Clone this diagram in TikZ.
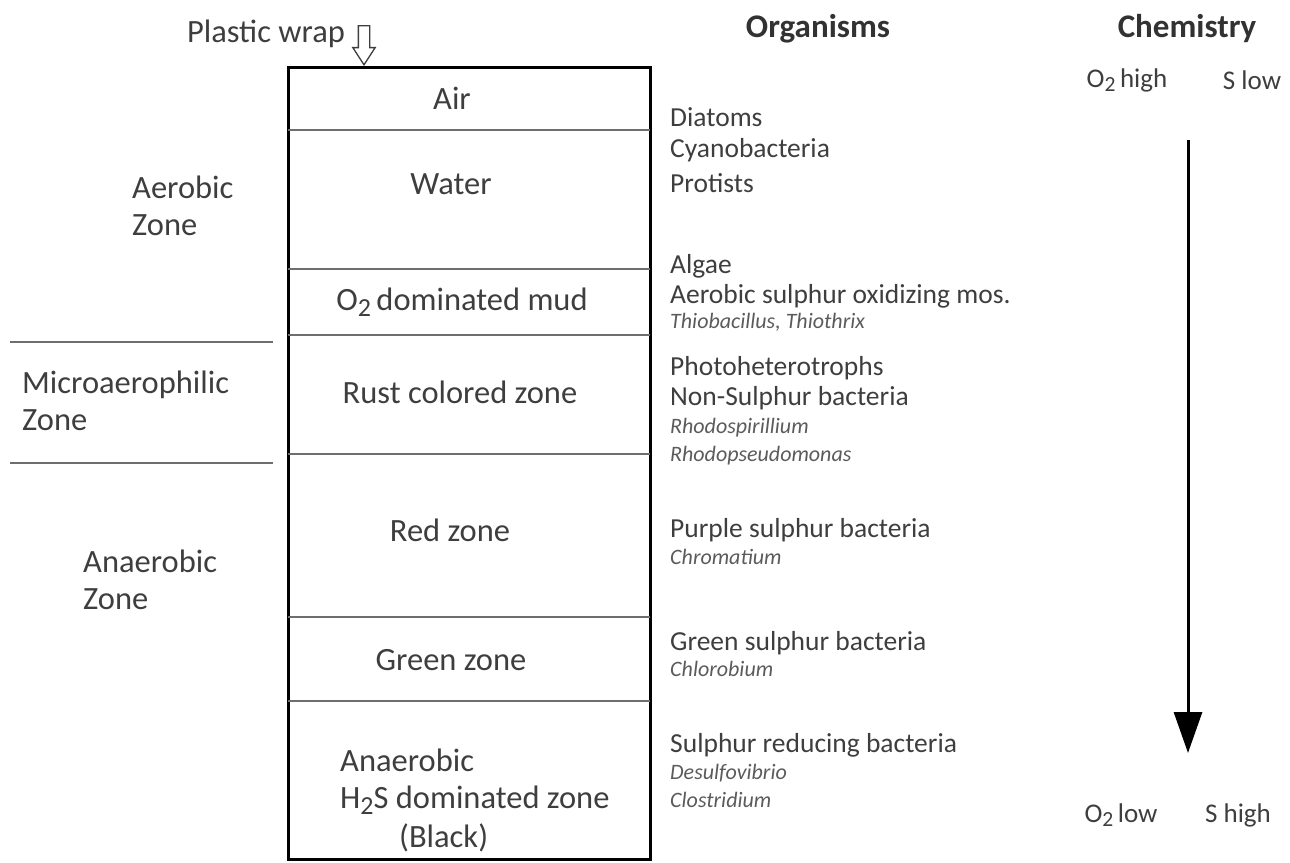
\documentclass[tikz,border=0pt]{standalone}
\usepackage{fontspec}
\setmainfont{Carlito}
\usetikzlibrary{arrows.meta,shapes.arrows}
\definecolor{textc}{RGB}{62,62,62}
\definecolor{divc}{RGB}{110,110,110}
\newcommand{\subtwo}{\raisebox{-0.35ex}{\scalebox{0.8}{2}}}
\begin{document}
\begin{tikzpicture}[x=1pt,y=-1pt,
  lbl/.style={font=\fontsize{32.5}{38}\selectfont, text=textc, inner sep=0pt},
  side/.style={font=\fontsize{32.5}{37.5}\selectfont, text=textc, inner sep=0pt, align=left, anchor=west},
  org/.style={font=\fontsize{27.5}{32}\selectfont, text=textc, inner sep=0pt, anchor=west},
  ital/.style={font=\fontsize{22}{26}\selectfont\itshape, text=textc!85, inner sep=0pt, anchor=west},
  head/.style={font=\fontsize{33}{38}\selectfont\bfseries, text=textc!80!black, inner sep=0pt},
  divider/.style={draw=divc, line width=1.5pt},
  zoneline/.style={draw=divc, line width=1.5pt},
  chem/.style={font=\fontsize{27}{32}\selectfont, text=textc, inner sep=0pt}]
\useasboundingbox (0,0) rectangle (1290,862);

% column box
\draw[line width=3pt] (288,67) rectangle (650,859);
\foreach \yy in {130,269,335,454,617,701} \draw[divider] (288,\yy) -- (650,\yy);

% plastic wrap
\node[lbl, anchor=center] (wrap) at (266,34) {Plastic wrap};
\node[single arrow, draw=textc, line width=1.3pt, shape border rotate=270, minimum height=39pt, inner sep=5pt, single arrow head extend=5.5pt, single arrow tip angle=66, anchor=tip] (wraparrow) at (364,66) {};

% box labels
\node[lbl] (air) at (452,98) {Air};
\node[lbl] (water) at (451,184) {Water};
\node[lbl] (mud) at (462,302) {O\subtwo\,dominated mud};
\node[lbl] (rust) at (460,392) {Rust colored zone};
\node[lbl] (red) at (450,530) {Red zone};
\node[lbl] (green) at (451,660) {Green zone};
\node[lbl, anchor=west] (an1) at (340,760) {Anaerobic};
\node[lbl, anchor=west] (an2) at (340,800) {H\subtwo S dominated zone};
\node[lbl, anchor=west] (an3) at (399,838) {(Black)};

% left zones
\node[side] (aer) at (132,206) {Aerobic\\Zone};
\draw[zoneline] (10,342) -- (273,342);
\node[side] (micro) at (22,401) {Microaerophilic\\Zone};
\draw[zoneline] (10,463) -- (273,463);
\node[side] (anaer) at (83,580) {Anaerobic\\Zone};

% headings
\node[head] (horg) at (818,29) {Organisms};
\node[head] (hchem) at (1187,29) {Chemistry};

% organisms
\node[org] at (670,117) {Diatoms};
\node[org] at (670,150) {Cyanobacteria};
\node[org] at (670,183) {Protists};
\node[org] at (670,266) {Algae};
\node[org] at (670,296) {Aerobic sulphur oxidizing mos.};
\node[ital] at (670,322) {Thiobacillus, Thiothrix};
\node[org] at (670,368) {Photoheterotrophs};
\node[org] at (670,398) {Non-Sulphur bacteria};
\node[ital] at (670,428) {Rhodospirillium};
\node[ital] at (670,456) {Rhodopseudomonas};
\node[org] at (670,530) {Purple sulphur bacteria};
\node[ital] at (670,557) {Chromatium};
\node[org] at (670,643) {Green sulphur bacteria};
\node[ital] at (670,669) {Chlorobium};
\node[org] at (670,745) {Sulphur reducing bacteria};
\node[ital] at (670,773) {Desulfovibrio};
\node[ital] at (670,800) {Clostridium};

% chemistry
\node[chem] (o2h) at (1127,80) {O\subtwo\,high};
\node[chem] (slow) at (1252,80) {S low};
\node[chem] (o2l) at (1121,815) {O\subtwo\,low};
\node[chem] (shigh) at (1238,815) {S high};
\coordinate (ctop) at (1188,140);
\coordinate (cbot) at (1188,753);
\draw[line width=3pt, -{Triangle[width=28pt,length=41pt]}] (ctop) -- (cbot);
\end{tikzpicture}
\end{document}
